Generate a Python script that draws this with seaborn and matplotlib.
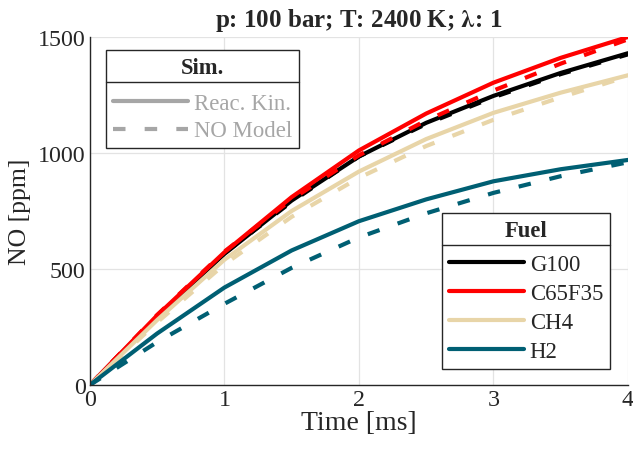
import matplotlib
matplotlib.use("Agg")
import matplotlib.pyplot as plt
from matplotlib.lines import Line2D
import numpy as np
import pandas as pd
import seaborn as sns

# time axis [ms]
time_ms = [0, 0.5, 1, 1.5, 2, 2.5, 3, 3.5, 4]

fuels = ["G100", "C65F35", "CH4", "H2"]
fuel_colors = ["#000000", "#ff0000", "#e8d5a8", "#005f73"]

# NO [ppm], reaction kinetics (solid)
g100_kin = [0, 295, 565, 795, 985, 1130, 1246, 1345, 1430]
c65_kin = [0, 300, 572, 810, 1011, 1170, 1303, 1410, 1500]
ch4_kin = [0, 280, 540, 750, 920, 1060, 1173, 1260, 1335]
h2_kin = [0, 222, 420, 580, 706, 800, 878, 930, 970]

# NO [ppm], NO model (dashed)
g100_mod = [0, 298, 568, 790, 985, 1125, 1240, 1340, 1425]
c65_mod = [0, 302, 575, 800, 990, 1140, 1269, 1385, 1490]
ch4_mod = [0, 270, 520, 725, 893, 1030, 1143, 1240, 1330]
h2_mod = [0, 185, 350, 505, 636, 740, 828, 900, 960]

sims = ["Reac. Kin.", "NO Model"]

rows = []
for fuel, kin, mod in zip(fuels, [g100_kin, c65_kin, ch4_kin, h2_kin],
                          [g100_mod, c65_mod, ch4_mod, h2_mod]):
    for t, v in zip(time_ms, kin):
        rows.append((t, v, fuel, sims[0]))
    for t, v in zip(time_ms, mod):
        rows.append((t, v, fuel, sims[1]))
df = pd.DataFrame(rows, columns=["time", "no", "fuel", "sim"])

sns.set_theme(style="white")
plt.rcParams["font.family"] = ["Liberation Serif", "DejaVu Serif"]
plt.rcParams["mathtext.fontset"] = "stix"

fig = plt.figure(figsize=(6.33, 4.56), dpi=100)
ax = fig.add_axes([0.142, 0.1535, 0.850, 0.7632])

lw = 3.0
dash = (3.0, 4.6)
sns.lineplot(data=df, x="time", y="no", hue="fuel", style="sim",
             hue_order=fuels, palette=fuel_colors, style_order=sims,
             dashes={sims[0]: "", sims[1]: dash}, linewidth=lw,
             legend=False, ax=ax, sort=False, estimator=None)

ax.set_xlim(0, 4)
ax.set_ylim(0, 1500)
ax.set_xticks([0, 1, 2, 3, 4])
ax.set_yticks([0, 500, 1000, 1500])
ax.grid(True, color="#e3e3e3", linewidth=0.9)
ax.set_axisbelow(True)
for side in ["top", "right"]:
    ax.spines[side].set_visible(False)
for side in ["left", "bottom"]:
    ax.spines[side].set_color("#262626")
    ax.spines[side].set_linewidth(1.0)
ax.tick_params(direction="in", length=5, width=1, color="#262626",
               labelsize=17.3, labelcolor="#262626", pad=3)
ax.set_xlabel("Time [ms]", fontsize=20, color="#262626", labelpad=0)
ax.set_ylabel("NO [ppm]", fontsize=18.5, color="#262626", labelpad=5)
ax.set_title("p: 100 bar; T: 2400 K; $\\mathbf{\\lambda}$: 1", fontsize=18,
             fontweight="bold", pad=8)

gray = "#a6a6a6"
sim_handles = [Line2D([], [], color=gray, lw=lw),
               Line2D([], [], color=gray, lw=lw, dashes=dash)]
leg1 = ax.legend(sim_handles, sims, loc="upper left",
                 bbox_to_anchor=(0.0297, 0.9626), borderaxespad=0,
                 fontsize=16.4, title="Sim.", handlelength=3.3,
                 handletextpad=0.25, labelspacing=0.28, borderpad=0.3,
                 fancybox=False, framealpha=1, edgecolor="#262626")
for txt in leg1.get_texts():
    txt.set_color(gray)
leg1.get_title().set_fontweight("bold")
leg1.get_title().set_fontsize(16.3)
leg1._legend_box.sep = 11
ax.add_artist(leg1)

fuel_handles = [Line2D([], [], color=c, lw=lw) for c in fuel_colors]
leg2 = ax.legend(fuel_handles, fuels, loc="lower right",
                 bbox_to_anchor=(0.9665, 0.046), borderaxespad=0,
                 fontsize=16.4, title="Fuel", handlelength=3.3,
                 handletextpad=0.25, labelspacing=0.36, borderpad=0.3,
                 fancybox=False, framealpha=1, edgecolor="#262626")
leg2.get_title().set_fontweight("bold")
leg2.get_title().set_fontsize(16.3)
leg2._legend_box.sep = 9

# separator line under each legend title
fig.canvas.draw()
inv = fig.transFigure.inverted()
for leg in [leg1, leg2]:
    fb = leg.get_frame().get_window_extent()
    tb = leg.get_title().get_window_extent()
    y = tb.y0 - 4
    (x0, y0), (x1, _) = inv.transform([(fb.x0, y), (fb.x1, y)])
    fig.add_artist(Line2D([x0, x1], [y0, y0], color="#262626", lw=1.0,
                          transform=fig.transFigure, zorder=10))

fig.savefig("out.png", dpi=100)
